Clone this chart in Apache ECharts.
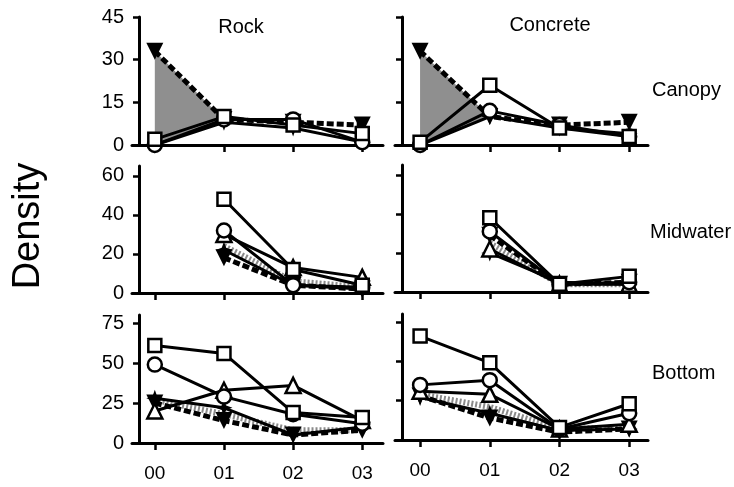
<!DOCTYPE html>
<html><head><meta charset="utf-8">
<script src="https://cdn.jsdelivr.net/npm/echarts@6/dist/echarts.min.js"></script>
<style>html,body{margin:0;padding:0;background:#fff}#c{width:734px;height:487px}</style>
</head><body><div id="c"></div>
<script>
const years = ['00','01','02','03'];
const columns = ['Rock','Concrete'];
const rows = ['Canopy','Midwater','Bottom'];
const yTicksCanopy = [0,15,30,45];
const yTicksMid = [0,20,40,60];
const yTicksBottom = [0,25,50,75];

// Rock - Canopy
const rcSquare  = [2, 10, 7, 4];
const rcCircle  = [0, 9, 9, 1];
const rcDownTri = [33, 9, 8, 7];
const rcStar    = [0, 8, 6, 1];
// Concrete - Canopy
const ccSquare  = [1, 21, 6, 3];
const ccCircle  = [0, 12, 7, 3];
const ccDownTri = [33, 10, 7, 8];
const ccStar    = [0, 10, 6, 4];
// Rock - Midwater
const rmSquare  = [null, 48, 12, 4];
const rmCircle  = [null, 32, 4, 3];
const rmTri     = [null, 30, 13, 8];
const rmGray    = [null, 24, 6, 3];
const rmStar    = [null, 22, 4, 2];
const rmDownTri = [null, 18, 4, 2];
// Concrete - Midwater
const cmSquare  = [null, 38, 4, 8];
const cmCircle  = [null, 31, 4, 5];
const cmDownTri = [null, 29, 4, 5];
const cmGray    = [null, 25, 4, 4];
const cmTri     = [null, 22, 4, 4];
const cmStar    = [null, 20, 5, 4];
// Rock - Bottom
const rbSquare  = [61, 56, 19, 16];
const rbCircle  = [49, 29, 18, 12];
const rbTri     = [20, 33, 36, 14];
const rbStar    = [28, 22, 5, 10];
const rbDownTri = [25, 14, 5, 8];
const rbGray    = [27, 18, 8, 8];
// Concrete - Bottom
const cbSquare  = [66, 49, 8, 23];
const cbCircle  = [35, 38, 7, 17];
const cbTri     = [31, 29, 7, 10];
const cbStar    = [27, 17, 6, 7];
const cbDownTri = [28, 14, 5, 7];
const cbGray    = [29, 21, 7, 8];

const FONT = 'Liberation Sans, Arial, sans-serif';
const chart = echarts.init(document.getElementById('c'), null, {renderer:'canvas'});

const grids = [
  {left:132, top:17,  width:251, height:128},
  {left:395, top:17,  width:253, height:128},
  {left:132, top:166, width:251, height:127},
  {left:395, top:165, width:253, height:127},
  {left:132, top:315, width:251, height:128},
  {left:395, top:314, width:253, height:126}
];
const yMax = [45,45,65,65,80,80];
const yTicks = [yTicksCanopy,yTicksCanopy,yTicksMid,yTicksMid,yTicksBottom,yTicksBottom];
const xRange = [[-0.33,3.3],[-0.36,3.27]];

const xAxes = grids.map((g,i)=>({
  type:'value', gridIndex:i, min:xRange[i%2][0], max:xRange[i%2][1],
  axisLine:{onZero:false, lineStyle:{color:'#000', width:3}},
  axisTick:{show:true, customValues:[0,1,2,3], length:7, lineStyle:{color:'#000', width:2.5}},
  axisLabel:{show:i>=4, customValues:[0,1,2,3], formatter:v=>years[Math.round(v)], color:'#000', fontSize:19, fontFamily:FONT, margin:21},
  splitLine:{show:false}
}));
const yAxes = grids.map((g,i)=>({
  type:'value', gridIndex:i, min:0, max:yMax[i], offset:-7,
  axisLine:{show:true, onZero:false, lineStyle:{color:'#000', width:3}},
  axisTick:{show:true, customValues:yTicks[i], length:6, lineStyle:{color:'#000', width:2.5}},
  axisLabel:{show:i%2===0, customValues:yTicks[i], color:'#000', fontSize:20, fontFamily:FONT, margin:15},
  splitLine:{show:false}
}));

const toPts = arr => arr.map((v,i)=> v==null ? null : [i,v]).filter(Boolean);
const STAR = 'path://M0,-10 L2.6,-2.6 L10,0 L2.6,2.6 L0,10 L-2.6,2.6 L-10,0 L-2.6,-2.6 Z';

function sq(arr,k){return {type:'line', xAxisIndex:k, yAxisIndex:k, data:toPts(arr), symbol:'rect', symbolSize:13, z:6,
  lineStyle:{color:'#000', width:3}, itemStyle:{color:'#fff', borderColor:'#000', borderWidth:2.5}};}
function ci(arr,k){return {type:'line', xAxisIndex:k, yAxisIndex:k, data:toPts(arr), symbol:'circle', symbolSize:14, z:5,
  lineStyle:{color:'#000', width:3}, itemStyle:{color:'#fff', borderColor:'#000', borderWidth:2.5}};}
function tr(arr,k){return {type:'line', xAxisIndex:k, yAxisIndex:k, data:toPts(arr), symbol:'triangle', symbolSize:15, z:5,
  lineStyle:{color:'#000', width:3}, itemStyle:{color:'#fff', borderColor:'#000', borderWidth:2.5}};}
function dt(arr,k){return {type:'line', xAxisIndex:k, yAxisIndex:k, data:toPts(arr), symbol:'triangle', symbolRotate:180, symbolSize:17, z:4,
  lineStyle:{color:'#000', width:5, type:[7,3]}, itemStyle:{color:'#000'}};}
function st(arr,k){return {type:'line', xAxisIndex:k, yAxisIndex:k, data:toPts(arr), symbol:STAR, symbolSize:17, z:4,
  lineStyle:{color:'#000', width:3}, itemStyle:{color:'#000'}};}
function gr(arr,k){return {type:'line', xAxisIndex:k, yAxisIndex:k, data:toPts(arr), symbol:'none', z:3,
  lineStyle:{color:'#8a8a8a', width:6, type:[2,2]}};}
function shade(top,base,k){return {type:'custom', xAxisIndex:k, yAxisIndex:k, z:2,
  data:[[0, top[0], 1, top[1], base[1], base[0]]], encode:{x:[0,2], y:[1,3,4,5]},
  renderItem:(p,api)=>({type:'polygon', shape:{points:[
     api.coord([api.value(0),api.value(1)]), api.coord([api.value(2),api.value(3)]),
     api.coord([api.value(2),api.value(4)]), api.coord([api.value(0),api.value(5)])]},
     style:{fill:'#8f8f8f'}})};}

const series = [
  shade(rcDownTri, rcStar, 0), dt(rcDownTri,0), st(rcStar,0), ci(rcCircle,0), sq(rcSquare,0),
  shade(ccDownTri, ccStar, 1), dt(ccDownTri,1), st(ccStar,1), ci(ccCircle,1), sq(ccSquare,1),
  gr(rmGray,2), dt(rmDownTri,2), st(rmStar,2), tr(rmTri,2), ci(rmCircle,2), sq(rmSquare,2),
  gr(cmGray,3), dt(cmDownTri,3), st(cmStar,3), tr(cmTri,3), ci(cmCircle,3), sq(cmSquare,3),
  gr(rbGray,4), dt(rbDownTri,4), st(rbStar,4), tr(rbTri,4), ci(rbCircle,4), sq(rbSquare,4),
  gr(cbGray,5), dt(cbDownTri,5), st(cbStar,5), tr(cbTri,5), ci(cbCircle,5), sq(cbSquare,5)
];

const txt = (t,x,y,size,align,rot)=>({type:'text', x:x, y:y, rotation:rot||0,
  style:{text:t, fontSize:size, fontFamily:FONT, fill:'#000', textAlign:align||'left', textVerticalAlign:'middle'}});

chart.setOption({
  animation:false,
  grid:grids, xAxis:xAxes, yAxis:yAxes, series:series,
  graphic:[
    txt(columns[0],241,27,20,'center'),
    txt(columns[1],550,25,20,'center'),
    txt(rows[0],652,90,20,'left'),
    txt(rows[1],650,232,20,'left'),
    txt(rows[2],652,373,20,'left'),
    txt('Density',29,226,38,'center',Math.PI/2)
  ]
});
</script></body></html>
